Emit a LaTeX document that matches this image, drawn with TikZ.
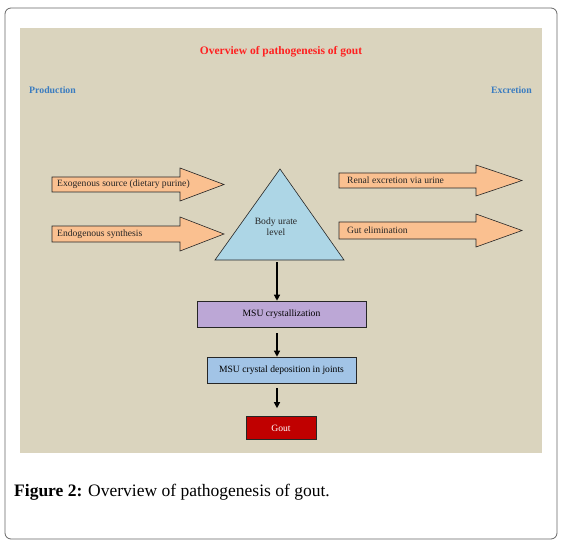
\documentclass[tikz,border=0pt]{standalone}
\usepackage{fontspec}
\setmainfont{Liberation Serif}
\usetikzlibrary{arrows.meta,positioning}
\definecolor{panelBeige}{HTML}{DAD4BE}
\definecolor{arrowPeach}{HTML}{FAC090}
\definecolor{urateBlue}{HTML}{ADD6E6}
\definecolor{crystLilac}{HTML}{BCA7D6}
\definecolor{depoBlue}{HTML}{A2C4E6}
\definecolor{goutRed}{HTML}{C00000}
\definecolor{titleRed}{HTML}{FF2020}
\definecolor{sideBlue}{HTML}{3A7CC0}

\begin{document}
\begin{tikzpicture}[
    x=1pt, y=-1pt,
    >={Triangle[length=6pt,width=6pt]},
    font=\fontsize{9.6}{11}\selectfont,
    % the wide peach arrows carry their own label
    fat/.style={draw=black!85, line width=0.6pt, fill=arrowPeach},
    fatlab/.style={anchor=west, inner sep=0pt, text=black!85},
    stage/.style={draw=black!85, line width=0.6pt, minimum height=26pt, inner sep=2pt},
    side/.style={font=\fontsize{9.8}{11}\selectfont\bfseries, text=sideBlue, inner sep=0pt},
    link/.style={->, line width=1.3pt},
]
\useasboundingbox (0,0) rectangle (562,548);

%================= frame and panel =================%
\draw[rounded corners=6pt, draw=black!60, line width=0.8pt] (5,8) rectangle (557,539);
\fill[panelBeige] (20,28) rectangle (542,453);

%================= headings =================%
\node[font=\fontsize{11.5}{13}\selectfont\bfseries, text=titleRed] (title) at (281,52) {Overview of pathogenesis of gout};
\node[side, anchor=west] (prod) at (29,90) {Production};
\node[side, anchor=east] (excr) at (532,90) {Excretion};

%================= production side =================%
\draw[fat] (52,177) -- (180,177) -- (180,168) -- (224,184.5) -- (180,201) -- (180,192) -- (52,192) -- cycle;
\node[fatlab] (exo) at (57,184.5) {Exogenous source (dietary purine)};
\draw[fat] (52,226) -- (180,226) -- (180,217) -- (224,234) -- (180,251) -- (180,242) -- (52,242) -- cycle;
\node[fatlab] (endo) at (57,234) {Endogenous synthesis};

%================= excretion side =================%
\draw[fat] (339,173) -- (476,173) -- (476,165) -- (522,180.5) -- (476,196) -- (476,188) -- (339,188) -- cycle;
\node[fatlab] (renal) at (347,180.5) {Renal excretion via urine};
\draw[fat] (339,222) -- (476,222) -- (476,214) -- (522,230.5) -- (476,247) -- (476,239) -- (339,239) -- cycle;
\node[fatlab] (gut) at (347,230.5) {Gut elimination};

%================= body urate pool =================%
\draw[draw=black!85, line width=0.6pt, fill=urateBlue] (280,169) -- (344,260) -- (215,260) -- cycle;
\node[align=center, text=black!85] (urate) at (276,227) {Body urate\\level};
\coordinate (tribase) at (277,262);

%================= downstream cascade =================%
\node[stage, fill=crystLilac, minimum width=169pt] (cryst) at (281.5,314) {MSU crystallization};
\node[stage, fill=depoBlue, minimum width=149pt] (depo) at (281.5,370) {MSU crystal deposition in joints};
\node[stage, fill=goutRed, text=white, minimum width=70pt, minimum height=23pt] (gout) at (281,428) {Gout};

\draw[link] (tribase) -- (tribase |- cryst.north);
\draw[link, shorten <=6pt] (tribase |- cryst.south) -- (tribase |- depo.north);
\draw[link, shorten <=5pt, shorten >=8pt] (tribase |- depo.south) -- (tribase |- gout.north);

%================= caption =================%
\node[anchor=west, inner sep=0pt, font=\fontsize{17.5}{20}\selectfont] (caption) at (14,492) {\textbf{Figure 2:} Overview of pathogenesis of gout.};

\end{tikzpicture}
\end{document}
